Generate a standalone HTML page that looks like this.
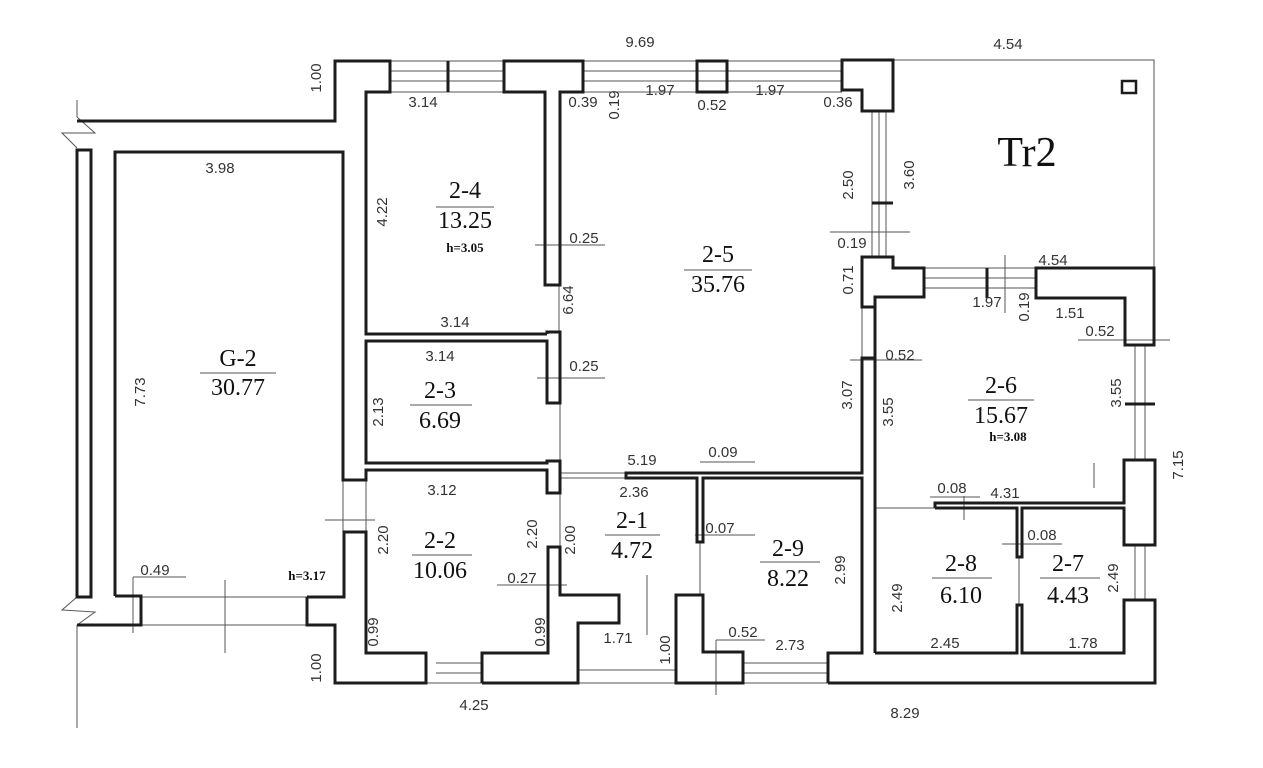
<!DOCTYPE html>
<html><head><meta charset="utf-8"><style>
html,body{margin:0;padding:0;background:#fff;}
svg{display:block;}
.w{fill:none;stroke:#1c1c1c;stroke-width:3;stroke-linejoin:miter;}
.t{fill:none;stroke:#555;stroke-width:1;}
.d{font-family:"Liberation Sans",sans-serif;font-size:15px;fill:#333;text-anchor:middle;}
.r{font-family:"Liberation Serif",serif;font-size:24px;fill:#111;text-anchor:middle;}
.h{font-family:"Liberation Serif",serif;font-size:13px;font-weight:bold;fill:#111;text-anchor:middle;}
</style></head><body>
<svg width="1263" height="768" viewBox="0 0 1263 768" xmlns="http://www.w3.org/2000/svg">
<!-- thin outline lines -->
<polyline class="t" points="893,60 1154,60 1154,268"/>
<line class="t" x1="77" y1="100" x2="77" y2="117"/>
<polyline class="t" points="77,117 95,133 62,133 77,148"/>
<polyline class="t" points="77,625 77,728"/>
<polyline class="t" points="77,597 62,610 95,612 77,625"/>
<rect x="1122" y="81" width="14" height="12" fill="none" stroke="#1c1c1c" stroke-width="2.5"/>

<!-- top windows -->
<g class="t">
<line x1="390" y1="71" x2="504" y2="71"/><line x1="390" y1="81" x2="504" y2="81"/><line x1="390" y1="92" x2="504" y2="92"/><line x1="390" y1="61" x2="504" y2="61"/>
<line x1="583" y1="71" x2="842" y2="71"/><line x1="583" y1="81" x2="842" y2="81"/><line x1="583" y1="92" x2="842" y2="92"/><line x1="583" y1="61" x2="842" y2="61"/>
<line x1="879" y1="111" x2="879" y2="257"/><line x1="886" y1="111" x2="886" y2="257"/><line x1="872" y1="111" x2="872" y2="257"/>
<line x1="924" y1="278" x2="1036" y2="278"/><line x1="924" y1="288" x2="1036" y2="288"/><line x1="924" y1="268" x2="1036" y2="268"/>
<line x1="1135" y1="345" x2="1135" y2="460"/><line x1="1145" y1="345" x2="1145" y2="460"/>
<line x1="1135" y1="545" x2="1135" y2="600"/><line x1="1145" y1="545" x2="1145" y2="600"/>
<line x1="436" y1="663" x2="482" y2="663"/><line x1="436" y1="673" x2="482" y2="673"/><line x1="426" y1="683" x2="482" y2="683"/>
<line x1="743" y1="663" x2="828" y2="663"/><line x1="743" y1="673" x2="828" y2="673"/><line x1="743" y1="683" x2="828" y2="683"/>
<line x1="578" y1="670" x2="676" y2="670"/><line x1="578" y1="683" x2="676" y2="683"/>
<line x1="141" y1="597" x2="307" y2="597"/><line x1="141" y1="625" x2="307" y2="625"/>
<line x1="560" y1="473" x2="626" y2="473"/><line x1="560" y1="478" x2="626" y2="478"/>
<line x1="862" y1="307" x2="862" y2="358"/>
<line x1="559" y1="285" x2="559" y2="332"/><line x1="560" y1="403" x2="560" y2="461"/><line x1="560" y1="493" x2="560" y2="547"/>
<line x1="343" y1="480" x2="343" y2="532"/><line x1="366" y1="480" x2="366" y2="532"/>
<line x1="700" y1="542" x2="700" y2="595"/><line x1="1019" y1="557" x2="1019" y2="605"/>
<line x1="875" y1="508" x2="935" y2="508"/>
<!-- dimension lines -->
<line x1="535" y1="245" x2="605" y2="245"/><line x1="537" y1="378" x2="605" y2="378"/>
<line x1="830" y1="232" x2="910" y2="232"/><line x1="1005" y1="255" x2="1005" y2="313"/>
<line x1="1078" y1="340" x2="1170" y2="340"/><line x1="850" y1="360" x2="922" y2="360"/>
<line x1="700" y1="462" x2="755" y2="462"/><line x1="695" y1="535" x2="755" y2="535"/>
<line x1="930" y1="497" x2="980" y2="497"/><line x1="964" y1="496" x2="964" y2="520"/>
<line x1="1002" y1="544" x2="1062" y2="544"/><line x1="497" y1="585" x2="567" y2="585"/>
<line x1="133" y1="577" x2="186" y2="577"/><line x1="133" y1="577" x2="133" y2="633"/>
<line x1="225" y1="580" x2="225" y2="653"/><line x1="325" y1="520" x2="375" y2="520"/>
<line x1="647" y1="575" x2="647" y2="635"/><line x1="716" y1="640" x2="765" y2="640"/><line x1="716" y1="640" x2="716" y2="695"/>
<line x1="1094" y1="463" x2="1094" y2="488"/>
</g>
<g stroke="#1c1c1c" stroke-width="3">
<line x1="448" y1="61" x2="448" y2="92"/><line x1="872" y1="203" x2="893" y2="203"/>
<line x1="987" y1="268" x2="987" y2="298"/><line x1="1125" y1="404" x2="1155" y2="404"/>
</g>

<!-- walls -->
<polyline class="w" points="77,121 335,121 335,61 390,61 390,92 366,92 366,334 547,334"/>
<polygon class="w" points="504,61 583,61 583,92 560,92 560,285 545,285 545,92 504,92"/>
<rect class="w" x="697" y="61" width="30" height="31"/>
<polygon class="w" points="842,60 893,60 893,111 862,111 862,90 842,90"/>
<polyline class="w" points="115,596 115,152 343,152 343,480 366,480 366,470 547,470 547,493 560,493 560,461 547,461 547,463 366,463 366,341 547,341 547,403 560,403 560,332 547,332 547,334"/>
<rect class="w" x="77" y="150" width="14" height="447"/>
<polyline class="w" points="115,596 141,596 141,625 77,625"/>
<polyline class="w" points="307,597 344,597 344,532 366,532 366,653 426,653 426,683 335,683 335,625 307,625 307,597"/>
<polyline class="w" points="482,683 482,653 548,653 548,547 560,547 560,595 619,595 619,623 578,623 578,683 482,683"/>
<polygon class="w" points="676,595 703,595 703,652 743,652 743,683 676,683"/>
<polyline class="w" points="828,683 828,653 862,653 862,478 703,478 703,542 697,542 697,478 626,478 626,473 862,473 862,358 875,358"/>
<polygon class="w" points="862,257 893,257 893,268 924,268 924,297 875,297 875,307 862,307"/>
<line class="w" x1="875" y1="297" x2="875" y2="653"/>
<polygon class="w" points="1036,268 1154,268 1154,345 1125,345 1125,298 1036,298"/>
<polyline class="w" points="828,683 1155,683 1155,600 1124,600 1124,653 1022,653 1022,605 1017,605 1017,653 875,653"/>
<polyline class="w" points="935,508 935,503 1124,503 1124,460 1155,460 1155,545 1124,545 1124,508 1022,508 1022,557 1017,557 1017,508 935,508"/>

<!-- room labels -->
<g class="t" stroke="#222">
<line x1="436" y1="207" x2="494" y2="207"/><line x1="684" y1="270" x2="752" y2="270"/>
<line x1="200" y1="373" x2="276" y2="373"/><line x1="410" y1="405" x2="472" y2="405"/>
<line x1="968" y1="400" x2="1034" y2="400"/><line x1="412" y1="555" x2="472" y2="555"/>
<line x1="605" y1="535" x2="660" y2="535"/><line x1="760" y1="562" x2="820" y2="562"/>
<line x1="932" y1="578" x2="992" y2="578"/><line x1="1040" y1="578" x2="1100" y2="578"/>
</g>
<text class="r" x="465" y="198">2-4</text><text class="r" x="465" y="228">13.25</text><text class="h" x="465" y="252">h=3.05</text>
<text class="r" x="718" y="262">2-5</text><text class="r" x="718" y="292">35.76</text>
<text class="r" x="238" y="366">G-2</text><text class="r" x="238" y="395">30.77</text>
<text class="r" x="440" y="398">2-3</text><text class="r" x="440" y="428">6.69</text>
<text class="r" x="1001" y="393">2-6</text><text class="r" x="1001" y="423">15.67</text><text class="h" x="1008" y="441">h=3.08</text>
<text class="r" x="440" y="548">2-2</text><text class="r" x="440" y="578">10.06</text>
<text class="r" x="632" y="528">2-1</text><text class="r" x="632" y="558">4.72</text>
<text class="r" x="788" y="556">2-9</text><text class="r" x="788" y="586">8.22</text>
<text class="r" x="961" y="571">2-8</text><text class="r" x="961" y="603">6.10</text>
<text class="r" x="1068" y="571">2-7</text><text class="r" x="1068" y="603">4.43</text>
<text class="h" x="307" y="580">h=3.17</text>
<text x="1027" y="166" style="font-family:'Liberation Serif',serif;font-size:42px;fill:#111;text-anchor:middle;">Tr2</text>

<!-- dimension labels -->
<g class="d">
<text x="640" y="47">9.69</text><text x="1008" y="49">4.54</text>
<text x="423" y="107">3.14</text><text x="583" y="107">0.39</text><text x="660" y="95">1.97</text>
<text x="712" y="110">0.52</text><text x="770" y="95">1.97</text><text x="838" y="107">0.36</text>
<text x="220" y="173">3.98</text><text x="584" y="243">0.25</text><text x="852" y="248">0.19</text>
<text x="1053" y="265">4.54</text><text x="987" y="307">1.97</text><text x="1070" y="318">1.51</text>
<text x="1100" y="336">0.52</text><text x="455" y="327">3.14</text><text x="440" y="361">3.14</text>
<text x="584" y="371">0.25</text><text x="900" y="360">0.52</text>
<text x="642" y="465">5.19</text><text x="723" y="457">0.09</text><text x="634" y="497">2.36</text>
<text x="442" y="495">3.12</text><text x="952" y="493">0.08</text><text x="1005" y="498">4.31</text>
<text x="720" y="533">0.07</text><text x="1042" y="540">0.08</text>
<text x="155" y="575">0.49</text><text x="522" y="583">0.27</text>
<text x="618" y="643">1.71</text><text x="743" y="637">0.52</text><text x="790" y="650">2.73</text>
<text x="945" y="648">2.45</text><text x="1083" y="648">1.78</text>
<text x="474" y="710">4.25</text><text x="905" y="718">8.29</text>
<text transform="translate(321,78) rotate(-90)">1.00</text>
<text transform="translate(619,105) rotate(-90)">0.19</text>
<text transform="translate(387,212) rotate(-90)">4.22</text>
<text transform="translate(853,185) rotate(-90)">2.50</text>
<text transform="translate(914,175) rotate(-90)">3.60</text>
<text transform="translate(853,280) rotate(-90)">0.71</text>
<text transform="translate(573,300) rotate(-90)">6.64</text>
<text transform="translate(1029,307) rotate(-90)">0.19</text>
<text transform="translate(145,392) rotate(-90)">7.73</text>
<text transform="translate(383,412) rotate(-90)">2.13</text>
<text transform="translate(852,395) rotate(-90)">3.07</text>
<text transform="translate(893,412) rotate(-90)">3.55</text>
<text transform="translate(1121,393) rotate(-90)">3.55</text>
<text transform="translate(1183,465) rotate(-90)">7.15</text>
<text transform="translate(388,540) rotate(-90)">2.20</text>
<text transform="translate(537,534) rotate(-90)">2.20</text>
<text transform="translate(575,540) rotate(-90)">2.00</text>
<text transform="translate(845,570) rotate(-90)">2.99</text>
<text transform="translate(902,598) rotate(-90)">2.49</text>
<text transform="translate(1118,578) rotate(-90)">2.49</text>
<text transform="translate(378,632) rotate(-90)">0.99</text>
<text transform="translate(545,632) rotate(-90)">0.99</text>
<text transform="translate(670,650) rotate(-90)">1.00</text>
<text transform="translate(321,668) rotate(-90)">1.00</text>
</g>
</svg>
</body></html>
